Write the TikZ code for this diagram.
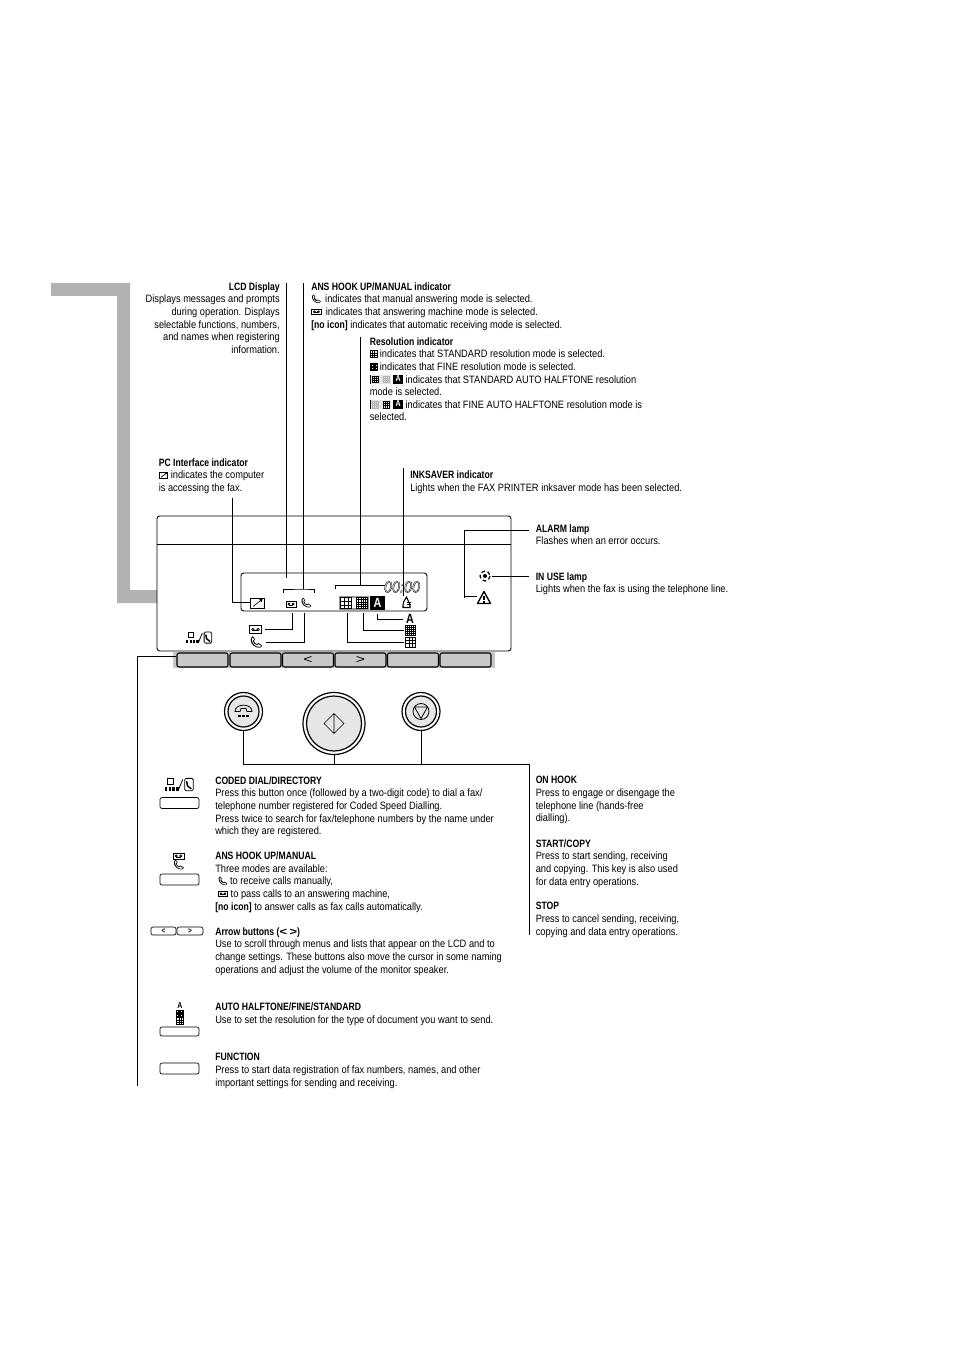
\documentclass[tikz,border=0pt]{standalone}
\usepackage{fontspec}
\setmainfont{Liberation Sans}[UprightFeatures={FakeStretch=0.87},BoldFeatures={FakeStretch=0.81},ItalicFeatures={FakeStretch=0.9}]
\usetikzlibrary{arrows.meta,positioning}
\definecolor{tabGray}{HTML}{B2B2B2}
\definecolor{stripGray}{HTML}{C8C8C8}
\definecolor{btnGray}{HTML}{E6E6E6}
\def\u{.75pt}
\tikzset{
  leader/.style={black,line width=.7pt},
  txt/.style={inner sep=0pt,anchor=north west,align=left,yshift=2.8pt,
    font=\fontsize{8}{9.45}\selectfont,execute at begin node=\strut},
  softkey/.style={draw,line width=.8pt,rounded corners=1.5pt,fill=stripGray,inner sep=0pt,
    minimum width=51*\u,minimum height=14*\u,font=\fontsize{9}{9}\selectfont},
  keybtn/.style={draw,line width=.5pt,rounded corners=1.5pt,inner sep=0pt,
    minimum width=39*\u,minimum height=11*\u},
  roundbtn/.style={circle,draw,line width=.9pt,fill=white,inner sep=0pt},
  pics/phone/.style={code={
    \fill (-5,-4) -- (-3,-6) -- (-1,-3) -- (-2,-1.5) .. controls (-1,1) .. (1,1.5) -- (2.5,.5)
      -- (6,3) -- (4,5) .. controls (-1,5.5) and (-6,1) .. cycle;
    \fill[white] (-3.8,-3.8) -- (-3,-4.6) -- (-2,-3) -- (-3,-1.5) .. controls (-2,1.5) .. (1,2.6)
      -- (2.5,1.6) -- (4.8,3.2) -- (3.8,4.2) .. controls (-.5,4.5) and (-4.5,.5) .. cycle;
  }},
  pics/tape/.style={code={
    \draw[line width=.5pt] (-6,-3.5) rectangle (6,3.5);
    \draw[line width=.5pt] (-2.5,0) circle (1.2) (2.5,0) circle (1.2);
    \draw[line width=.7pt] (-2.5,1.2) -- (2.5,1.2);
  }},
  pics/gridstd/.style={code={
    \draw[line width=.4pt] (-5,-5) rectangle (5,5);
    \foreach \g in {-1.7,1.7} {
      \draw[line width=.4pt] (\g,-5) -- (\g,5) (-5,\g) -- (5,\g);
    }
  }},
  pics/gridfine/.style={code={
    \draw[line width=.4pt] (-5,-5) rectangle (5,5);
    \foreach \g in {-3,-1,1,3} {
      \draw[line width=.4pt] (\g,-5) -- (\g,5) (-5,\g) -- (5,\g);
    }
  }},
  pics/dirkeys/.style={code={
    \draw[line width=.7pt] (-12,-7) rectangle (-6,-1);
    \foreach \g in {-15,-11,-7,-3} {
      \fill (\g,2.5) rectangle +(2.6,3.5);
    }
    \draw[line width=.6pt] (-1,6) -- (4,-6);
    \draw[line width=.6pt,rounded corners=1pt] (6,-7) rectangle (15,6);
    \draw[line width=1.1pt] (8,-4) -- (9,1) -- (13,4);
  }},
  pics/pcmark/.style={code={
    \draw[line width=.6pt] (-7,-5) rectangle (7,5);
    \draw[line width=.5pt] (-4,3.5) -- (5,-3.5);
    \fill (5.5,-4) -- (2,-3.6) -- (4.6,-.8) -- cycle;
  }},
}
\newcommand{\inphone}{\smash{\tikz[x=.75pt,y=-.75pt,baseline=-2.8pt]\pic[scale=.8]{phone};}}
\newcommand{\intape}{\smash{\tikz[x=.75pt,y=-.75pt,baseline=-2.8pt]\pic[scale=.8]{tape};}}
\newcommand{\instd}{\smash{\tikz[x=.75pt,y=-.75pt,baseline=-2.8pt]\pic[scale=.7]{gridstd};}}
\newcommand{\infine}{\smash{\tikz[x=.75pt,y=-.75pt,baseline=-2.8pt]\pic[scale=.7]{gridfine};}}
\newcommand{\inpc}{\smash{\tikz[x=.75pt,y=-.75pt,baseline=-2.8pt]\pic[scale=.62]{pcmark};}}
\newcommand{\inauto}[2]{\smash{\tikz[x=.75pt,y=-.75pt,baseline=-2.8pt]{
  \fill[black!10] (-5,-4.5) rectangle (16,4.5);
  \draw[line width=.5pt] (-5,-4.5) -- (-5,4.5);
  \pic[#1,scale=.65] at (0,0) {gridstd};
  \pic[#2,scale=.65] at (11,0) {gridstd};
  \node[anchor=center,yshift=0pt,execute at begin node={},fill=black,text=white,inner sep=0pt,
    minimum width=10*\u,minimum height=9*\u,
    font=\fontsize{6.5}{6.5}\selectfont\bfseries] (inA) at (23,0) {A};}}}
\begin{document}
\begin{tikzpicture}[x=\u,y=-\u]
  \useasboundingbox (0,0) rectangle (954,1351);
  % grey tab
  \fill[tabGray] (51,283) -- (130,283) -- (130,590) -- (157,590) -- (157,603) -- (117,603) -- (117,296) -- (51,296) -- cycle;

  % panel
  \draw[line width=.7pt,rounded corners=2pt] (157,516) rectangle (511,651);
  \draw[leader] (157,544.5) -- (511,544.5);
  \draw[line width=.7pt,rounded corners=2pt] (241,573) rectangle (427,611);

  % soft keys
  \fill[stripGray] (173,652) rectangle (495,668);
  \foreach \n/\x/\t in {1/202.5/{},2/255.5/{},3/308/<,4/360.5/>,5/413/{},6/465.5/{}} {
    \node[softkey] (softkey\n) at (\x,660) {\scalebox{1.5}[1]{\t}};
  }

  % display icons
  \pic at (257,603) {pcmark};
  \pic[scale=.85] at (291,604) {tape};
  \pic[scale=.9] at (306,603) {phone};
  \fill[black!40] (339,596) rectangle (369,610);
  \fill[white] (341,598) rectangle (367,608);
  \pic[scale=1.1] at (346,603) {gridstd};
  \pic[scale=1.1] at (362,603) {gridfine};
  \node[fill=black,text=white,inner sep=0pt,minimum width=15.5*\u,minimum height=14*\u,
    font=\fontsize{10}{10}\selectfont\bfseries] (lcdA) at (377.5,603) {A};
  \node[inner sep=0pt,font=\fontsize{12}{12}\selectfont\itshape] (lcdTime) at (402,587)
    {\special{pdf:code q 1 Tr 0.28 w}00:00\special{pdf:code Q}};
  \draw[line width=.8pt] (406.5,597) .. controls (404,601) and (403,603) .. (403,605) -- (403,607.5) -- (410,607.5) -- (410,605) .. controls (409,603) and (408,600) .. cycle;
  \draw[line width=.6pt] (407,602) -- (411,602) (407,604.5) -- (411,604.5);

  % icons under the display
  \pic[scale=1.05] at (255.5,629.5) {tape};
  \pic[scale=1.05] at (256,642.5) {phone};
  \pic[scale=.85] at (199,638) {dirkeys};
  \node[inner sep=0pt,font=\fontsize{10}{10}\selectfont\bfseries] (keyA) at (410,619) {A};
  \pic at (410.5,630.5) {gridfine};
  \pic at (410.5,642) {gridstd};

  % lamps
  \fill (485,576) circle (2);
  \draw[line width=.9pt,dash pattern=on 2.8pt off 2pt] (485,576) circle (5);
  \draw[line width=1pt,line join=round] (484,591.5) -- (477.5,603.5) -- (490.5,603.5) -- cycle;
  \draw[line width=1pt] (484,595.5) -- (484,600) (484,601) -- (484,602.5);

  % round buttons
  \node[roundbtn,minimum size=38*\u] (hookOuter) at (243.5,711.5) {};
  \node[roundbtn,fill=btnGray,minimum size=31*\u] (hookBtn) at (243.5,711.5) {};
  \node[roundbtn,minimum size=62*\u] (startOuter) at (334,723.5) {};
  \node[roundbtn,fill=btnGray,minimum size=55*\u] (startBtn) at (334,723.5) {};
  \node[roundbtn,minimum size=38*\u] (stopOuter) at (421,711.5) {};
  \node[roundbtn,fill=btnGray,minimum size=31*\u] (stopBtn) at (421,711.5) {};
  \draw[line width=.6pt] (235,711.5) .. controls (235,703) and (252,703) .. (252,711.5) -- (247,711.5) -- (246,708.5) -- (241,708.5) -- (240,711.5) -- cycle;
  \foreach \x in {238,242.2,246.4} {
    \fill (\x,714.5) rectangle +(2.8,2.8);
  }
  \draw[line width=.5pt] (334,713.5) -- (344,723.5) -- (334,733.5) -- (324,723.5) -- cycle (334,713.5) -- (334,733.5);
  \draw[line width=.6pt] (421,711.5) circle (8);
  \draw[line width=.6pt] (414.5,707) -- (427.5,707) -- (421,718.5) -- cycle;

  % text at the top
  \node[txt,anchor=north east,align=right] (lcdText) at (280,286)
    {\textbf{LCD Display}\\Displays messages and prompts\\during operation. Displays\\selectable functions, numbers,\\and names when registering\\information.};
  \node[txt] (ansText) at (311,286)
    {\textbf{ANS HOOK UP/MANUAL indicator}\\
     \inphone\ \,indicates that manual answering mode is selected.\\
     \intape\ \,indicates that answering machine mode is selected.\\
     \textbf{[no icon]} indicates that automatic receiving mode is selected.};
  \node[txt] (resText) at (369.5,341)
    {\textbf{Resolution indicator}\\
     \instd\ indicates that STANDARD resolution mode is selected.\\
     \infine\ indicates that FINE resolution mode is selected.\\
     \inauto{black}{black!30} indicates that STANDARD AUTO HALFTONE resolution\\
     mode is selected.\\
     \inauto{black!30}{black} indicates that FINE AUTO HALFTONE resolution mode is\\
     selected.};
  \node[txt] (pcText) at (158.5,462)
    {\textbf{PC Interface indicator}\\\inpc\ indicates the computer\\is accessing the fax.};
  \node[txt] (inkText) at (410,474.5)
    {\textbf{INKSAVER indicator}\\Lights when the FAX PRINTER inksaver mode has been selected.};
  \node[txt] (alarmText) at (535.5,528)
    {\textbf{ALARM lamp}\\Flashes when an error occurs.};
  \node[txt] (useText) at (535.5,576)
    {\textbf{IN USE lamp}\\Lights when the fax is using the telephone line.};

  % text on the right
  \node[txt] (hookText) at (535.5,780)
    {\textbf{ON HOOK}\\Press to engage or disengage the\\telephone line (hands-free\\dialling).};
  \node[txt] (startText) at (535.5,843)
    {\textbf{START/COPY}\\Press to start sending, receiving\\and copying. This key is also used\\for data entry operations.};
  \node[txt] (stopText) at (535.5,906)
    {\textbf{STOP}\\Press to cancel sending, receiving,\\copying and data entry operations.};

  % text at the bottom
  \node[txt] (codedText) at (215,780)
    {\textbf{CODED DIAL/DIRECTORY}\\Press this button once (followed by a two-digit code) to dial a fax/\\telephone number registered for Coded Speed Dialling.\\Press twice to search for fax/telephone numbers by the name under\\which they are registered.};
  \node[txt] (manualText) at (215,855.5)
    {\textbf{ANS HOOK UP/MANUAL}\\Three modes are available:\\\ \inphone\ to receive calls manually,\\\ \intape\ to pass calls to an answering machine,\\\textbf{[no icon]} to answer calls as fax calls automatically.};
  \node[txt] (arrowText) at (215,931)
    {\textbf{Arrow buttons (\scalebox{1.5}[1]{<} \scalebox{1.5}[1]{>})}\\Use to scroll through menus and lists that appear on the LCD and to\\change settings. These buttons also move the cursor in some naming\\operations and adjust the volume of the monitor speaker.};
  \node[txt] (autoText) at (215,1006.5)
    {\textbf{AUTO HALFTONE/FINE/STANDARD}\\Use to set the resolution for the type of document you want to send.};
  \node[txt] (funcText) at (215,1057)
    {\textbf{FUNCTION}\\Press to start data registration of fax numbers, names, and other\\important settings for sending and receiving.};

  % keys beside the text
  \pic[scale=.95] at (179,785) {dirkeys};
  \node[keybtn] (dirKey) at (179.5,803) {};
  \pic[scale=.9] at (178.5,856) {tape};
  \pic[scale=.9] at (178.5,865) {phone};
  \node[keybtn] (ansKey) at (179.5,879.5) {};
  \node[keybtn,minimum width=25*\u,minimum height=8*\u,font=\fontsize{6}{6}\selectfont\bfseries] (leftKey) at (163.5,931) {<};
  \node[keybtn,minimum width=26*\u,minimum height=8*\u,font=\fontsize{6}{6}\selectfont\bfseries] (rightKey) at (190,931) {>};
  \node[inner sep=0pt,font=\fontsize{6.5}{6.5}\selectfont\bfseries] (autoA) at (180,1006) {A};
  \pic[scale=.7] at (180,1014) {gridfine};
  \pic[scale=.7] at (180,1021) {gridstd};
  \node[keybtn,minimum height=9*\u] (autoKey) at (179.5,1031.5) {};
  \node[keybtn] (funcKey) at (179.5,1068.5) {};

  % free ends of the leaders
  \coordinate (lcdTop) at (286.5,283);
  \coordinate (lcdEnd) at (286.5,578);
  \coordinate (ansTop) at (303.5,283);
  \coordinate (ansEnd) at (303.5,589);
  \coordinate (ansLeft) at (283,593);
  \coordinate (ansRight) at (314,593);
  \coordinate (resTop) at (360.5,337);
  \coordinate (resEnd) at (360.5,585);
  \coordinate (resLeft) at (335,589);
  \coordinate (resRight) at (385,585);
  \coordinate (inkTop) at (403.5,468);
  \coordinate (inkEnd) at (403.5,596);
  \coordinate (pcTop) at (232.5,498);
  \coordinate (pcEnd) at (250,602.5);
  \coordinate (alarmEnd) at (529,530);
  \coordinate (alarmIcon) at (477,596);
  \coordinate (alarmLow) at (464.5,598);
  \coordinate (useEnd) at (529,576);
  \coordinate (useIcon) at (492,576);
  \coordinate (tapeTop) at (292,613);
  \coordinate (tapeEnd) at (265,629);
  \coordinate (phoneTop) at (304.5,613);
  \coordinate (phoneEnd) at (266,642.5);
  \coordinate (aTop) at (377,614);
  \coordinate (aEnd) at (403,619);
  \coordinate (fineTop) at (363,613);
  \coordinate (fineEnd) at (404,630);
  \coordinate (stdTop) at (347,613);
  \coordinate (stdEnd) at (404,642.5);
  \coordinate (keysEnd) at (137.5,1086);
  \coordinate (rightEnd) at (529.5,935);

  % leaders
  \draw[leader] (lcdTop) -- (lcdEnd);
  \draw[leader] (ansTop) -- (ansEnd);
  \draw[leader] (ansLeft) |- (ansEnd) -| (ansRight);
  \draw[leader] (resTop) -- (resEnd);
  \draw[leader] (resLeft) |- (resRight);
  \draw[leader] (inkTop) -- (inkEnd);
  \draw[leader] (pcTop) |- (pcEnd);
  \draw[leader] (alarmEnd) -| (alarmLow);
  \draw[leader] (alarmLow |- alarmIcon) -- (alarmIcon);
  \draw[leader] (useIcon) -- (useEnd);
  \draw[leader] (tapeTop) |- (tapeEnd);
  \draw[leader] (phoneTop) |- (phoneEnd);
  \draw[leader] (aTop) |- (aEnd);
  \draw[leader] (fineTop) |- (fineEnd);
  \draw[leader] (stdTop) |- (stdEnd);
  \draw[leader] (softkey1.west |- 0,656) -- (keysEnd |- 0,656) -- (keysEnd);
  \draw[leader] (hookOuter.south) |- (rightEnd |- 0,764.5) -- (rightEnd);
  \draw[leader] (startOuter.south) -- (startOuter.south |- 0,764.5);
  \draw[leader] (stopOuter.south) -- (stopOuter.south |- 0,764.5);
\end{tikzpicture}
\end{document}
